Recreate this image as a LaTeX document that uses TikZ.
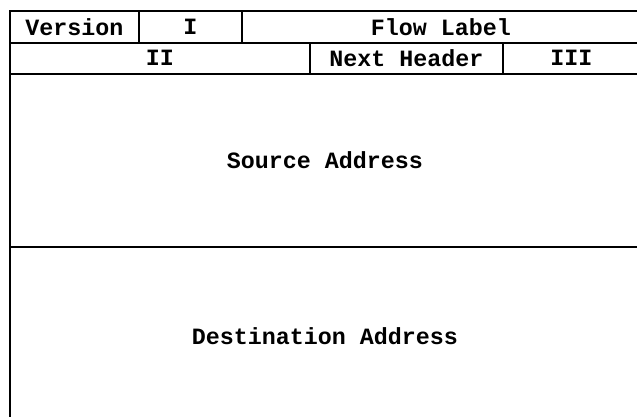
\documentclass[tikz,border=0pt]{standalone}
\usepackage{fontspec}
\setmainfont{Liberation Mono}
\usepackage{tikz}
\tikzset{
    fieldbox/.style={draw=black, line width=1.5pt},
    fieldtext/.style={font=\fontsize{17.5}{20}\selectfont\bfseries, inner sep=0pt}
}

\begin{document}
\begin{tikzpicture}[x=0.75pt, y=-0.75pt]
            % page size, the header runs off the right and bottom edge
            \useasboundingbox (0, 0) rectangle (637, 417);
            \clip (0, 0) rectangle (637, 417);
            % first row
            \draw [fieldbox] (10, 11) rectangle (139, 42.7);
            \draw [fieldbox] (139, 11) rectangle (242, 42.7);
            \draw [fieldbox] (242, 11) rectangle (640, 42.7);
            \node [fieldtext] (version) at (74.5, 26.8) {Version};
            \node [fieldtext] (one) at (190.5, 26.8) {I};
            \node [fieldtext] (flow) at (441, 26.8) {Flow Label};
            % second row
            \draw [fieldbox] (10, 42.7) rectangle (310, 74);
            \draw [fieldbox] (310, 42.7) rectangle (503, 74);
            \draw [fieldbox] (503, 42.7) rectangle (640, 74);
            \node [fieldtext] (two) at (160, 58.3) {II};
            \node [fieldtext] (next) at (406.5, 58.3) {Next Header};
            \node [fieldtext] (three) at (571.5, 58.3) {III};
            % addresses
            \draw [fieldbox] (10, 74) rectangle (640, 247);
            \draw [fieldbox] (10, 247) rectangle (640, 425);
            \node [fieldtext] (source) at (325, 160.5) {Source Address};
            \node [fieldtext] (destination) at (325, 336) {Destination Address};
        \end{tikzpicture}
\end{document}
